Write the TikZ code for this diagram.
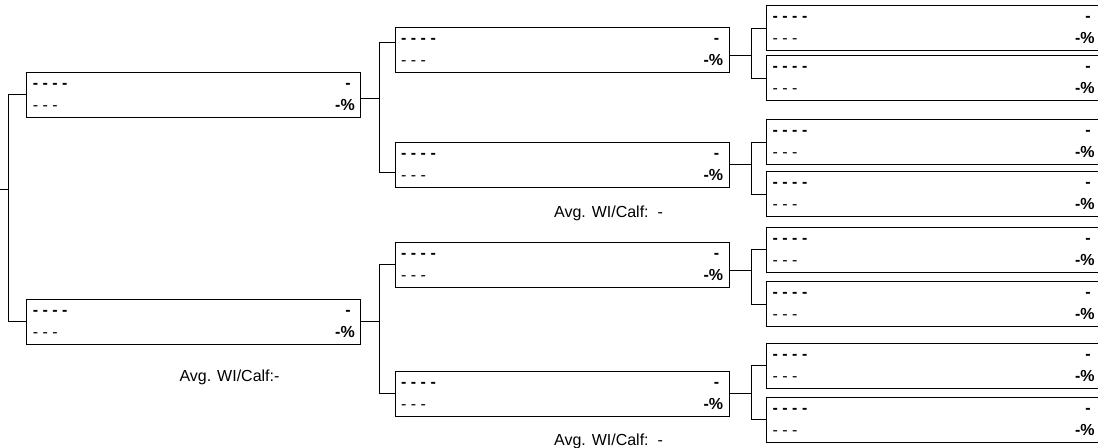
\documentclass[tikz,border=0pt]{standalone}
\usepackage{fontspec}
\setmainfont{Liberation Sans}
\newcommand{\pairtext}{{\renewcommand{\arraystretch}{1.15}%
	\begin{tabular*}{241.5pt}{@{}l@{\extracolsep{\fill}}r@{}}
		\textbf{- - - -} & \textbf{-}\hspace{3pt} \\
		- - - & \textbf{-\%}
	\end{tabular*}}}
\begin{document}
\begin{tikzpicture}[x = 0.75pt, y = -0.75pt, font = \fontsize{12}{14.4}\selectfont,
	pair/.style = {draw, line width = 0.75pt, minimum width = 250.5pt, minimum height = 33.75pt, inner xsep = 4.5pt, inner ysep = 0pt},
	link/.style = {line width = 0.75pt}]
	\useasboundingbox ( 0, 0 ) rectangle ( 1098, 448 );
	% first round
	\node[pair] (a) at ( 193.8, 94.7 ) {\pairtext};
	\node[pair] (b) at ( 193.8, 321.7 ) {\pairtext};
	% second round
	\node[pair] (c) at ( 562.2, 50.5 ) {\pairtext};
	\node[pair] (d) at ( 562.2, 164.8 ) {\pairtext};
	\node[pair] (e) at ( 562.2, 264.8 ) {\pairtext};
	\node[pair] (f) at ( 562.2, 393.8 ) {\pairtext};
	% third round
	\node[pair] (g1) at ( 933.7, 28.5 ) {\pairtext};
	\node[pair] (g2) at ( 933.7, 78.5 ) {\pairtext};
	\node[pair] (g3) at ( 933.7, 142.5 ) {\pairtext};
	\node[pair] (g4) at ( 933.7, 194.2 ) {\pairtext};
	\node[pair] (g5) at ( 933.7, 249.8 ) {\pairtext};
	\node[pair] (g6) at ( 933.7, 304.2 ) {\pairtext};
	\node[pair] (g7) at ( 933.7, 365.8 ) {\pairtext};
	\node[pair] (g8) at ( 933.7, 419.8 ) {\pairtext};
	% averages
	\node (avgb) at ( 229.5, 377 ) {Avg. WI/Calf:-};
	\node (avgd) at ( 608.5, 213 ) {Avg. WI/Calf:\ \ -};
	\node (avgf) at ( 608.5, 441 ) {Avg. WI/Calf:\ \ -};
	% brackets
	\coordinate (root) at ( 0, 190 );
	\draw[link] (root) -- ++( 8, 0 ) |- (a.west);
	\draw[link] (root) -- ++( 8, 0 ) |- (b.west);
	\draw[link] ([yshift = -2.5pt] a.east) -- ++( 18, 0 ) |- ([yshift = 6pt] c.west);
	\draw[link] ([yshift = -2.5pt] a.east) -- ++( 18, 0 ) |- ([yshift = -6pt] d.west);
	\draw[link] (b.east) -- ++( 18, 0 ) |- (e.west);
	\draw[link] (b.east) -- ++( 18, 0 ) |- (f.west);
	\draw[link] ([yshift = -4pt] c.east) -- ++( 21.5, 0 ) |- (g1.west);
	\draw[link] ([yshift = -4pt] c.east) -- ++( 21.5, 0 ) |- (g2.west);
	\draw[link] (d.east) -- ++( 21.5, 0 ) |- (g3.west);
	\draw[link] (d.east) -- ++( 21.5, 0 ) |- (g4.west);
	\draw[link] ([yshift = -4pt] e.east) -- ++( 21.5, 0 ) |- (g5.west);
	\draw[link] ([yshift = -4pt] e.east) -- ++( 21.5, 0 ) |- (g6.west);
	\draw[link] (f.east) -- ++( 21.5, 0 ) |- (g7.west);
	\draw[link] (f.east) -- ++( 21.5, 0 ) |- (g8.west);
\end{tikzpicture}
\end{document}
